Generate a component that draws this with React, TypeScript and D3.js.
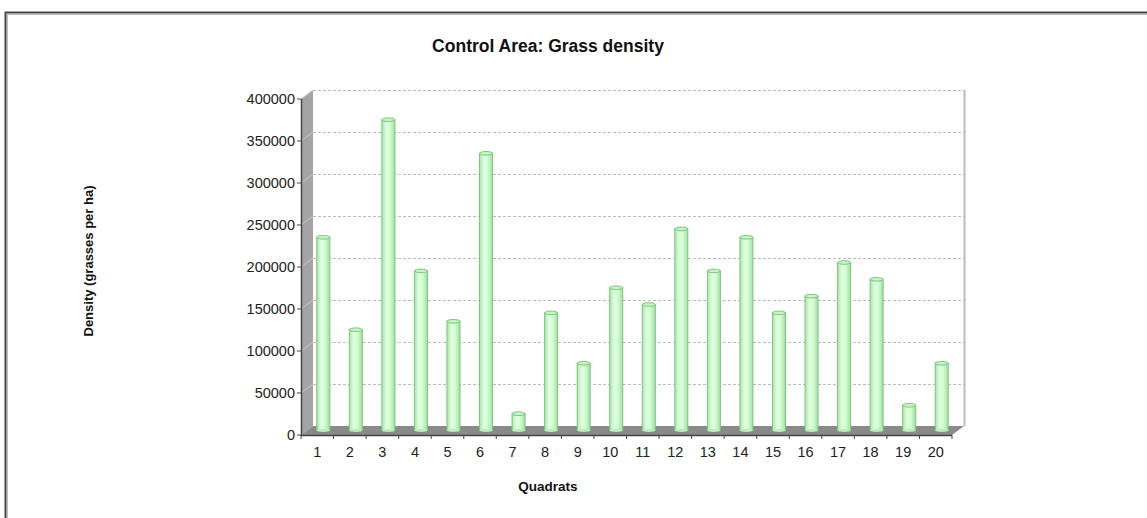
import React from "react";
import * as d3 from "d3";

const categories = ["1","2","3","4","5","6","7","8","9","10","11","12","13","14","15","16","17","18","19","20"];
const values = [230000,120000,370000,190000,130000,330000,20000,140000,80000,170000,150000,240000,190000,230000,140000,160000,200000,180000,30000,80000];
const yTicks = [0,50000,100000,150000,200000,250000,300000,350000,400000];
const title = "Control Area: Grass density";
const xTitle = "Quadrats";
const yTitle = "Density (grasses per ha)";

export default function App() {
  const W = 1147, H = 518;
  const left = 301, right = 952, top = 99, bottom = 435;
  const dx = 12, dy = -9;
  const x = d3.scaleBand<string>().domain(categories).range([left, right]);
  const y = d3.scaleLinear().domain([0, 400000]).range([bottom, top]);
  const font = "Arial, 'Liberation Sans', sans-serif";
  const bw = 13;
  const mx = dx / 2, my = dy / 2;
  return (
    <svg width={W} height={H} style={{ position: "absolute", left: 0, top: 0, background: "#fff" }} fontFamily={font}>
      <defs>
        <linearGradient id="barg" x1="0" x2="1" y1="0" y2="0">
          <stop offset="0" stopColor="#a8e6a8" />
          <stop offset="0.35" stopColor="#e2ffe2" />
          <stop offset="0.6" stopColor="#d4ffd4" />
          <stop offset="1" stopColor="#a0e0a0" />
        </linearGradient>
      </defs>
      <rect x={5.5} y={12.5} width={W + 20} height={H + 20} fill="none" stroke="#444" strokeWidth={2} />
      <rect x={7.5} y={14.5} width={W + 20} height={H + 20} fill="none" stroke="#bbb" strokeWidth={1} />
      <polygon points={`${left},${top} ${left + dx},${top + dy} ${left + dx},${bottom + dy} ${left},${bottom}`} fill="#a4a4a4" />
      <polygon points={`${left},${bottom} ${left + dx},${bottom + dy} ${right + dx},${bottom + dy} ${right},${bottom}`} fill="#8a8a8a" />
      <line x1={right + dx + 0.5} x2={right + dx + 0.5} y1={top + dy} y2={bottom + dy} stroke="#bbb" strokeWidth={2} />
      {yTicks.filter(t => t > 0).map(t => (
        <g key={t}>
          <line x1={left + dx} x2={right + dx} y1={y(t) + dy + 0.5} y2={y(t) + dy + 0.5} stroke="#bbb" strokeDasharray="3,2" />
          <line x1={left} x2={left + dx} y1={y(t)} y2={y(t) + dy} stroke="#c8c8c8" />
        </g>
      ))}
      {values.map((v, i) => {
        const cx = (x(categories[i]) as number) + x.bandwidth() / 2 + mx;
        const yt = y(v) + my;
        const yb = bottom + my;
        return (
          <g key={i}>
            <rect x={cx - bw / 2} y={yt} width={bw} height={yb - yt} fill="url(#barg)" stroke="#7cc47c" strokeWidth={1} />
            <ellipse cx={cx} cy={yt} rx={bw / 2} ry={1.8} fill="#c8f5c8" stroke="#7cc47c" strokeWidth={1} />
            <ellipse cx={cx} cy={yb} rx={bw / 2} ry={1.5} fill="#b8eeb8" stroke="none" />
          </g>
        );
      })}
      <line x1={left + 0.5} x2={left + 0.5} y1={top} y2={bottom} stroke="#444" strokeWidth={1.5} />
      {yTicks.map(t => (
        <g key={t}>
          <line x1={left - 4} x2={left} y1={y(t)} y2={y(t)} stroke="#444" />
          <text x={left - 6} y={y(t)} dy="0.35em" textAnchor="end" fontSize={14.5} fill="#222">{t}</text>
        </g>
      ))}
      <line x1={left} x2={right} y1={bottom + 0.5} y2={bottom + 0.5} stroke="#444" strokeWidth={1.5} />
      {categories.map((c) => (
        <g key={c}>
          <line x1={(x(c) as number)} x2={(x(c) as number)} y1={bottom} y2={bottom + 4} stroke="#444" />
          <text x={(x(c) as number) + x.bandwidth() / 2} y={bottom + 22} textAnchor="middle" fontSize={14.5} fill="#222">{c}</text>
        </g>
      ))}
      <line x1={right} x2={right} y1={bottom} y2={bottom + 4} stroke="#444" />
      <text x={548} y={52} textAnchor="middle" fontSize={17.5} fontWeight="bold" fill="#111">{title}</text>
      <text x={548} y={491} textAnchor="middle" fontSize={13.5} fontWeight="bold" fill="#111">{xTitle}</text>
      <text transform={`translate(93,261) rotate(-90)`} textAnchor="middle" fontSize={13} fontWeight="bold" fill="#111">{yTitle}</text>
    </svg>
  );
}
